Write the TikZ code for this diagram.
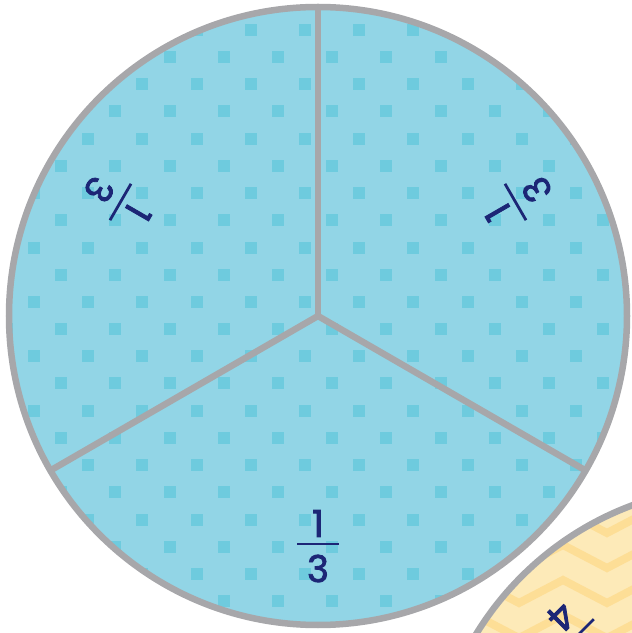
\documentclass[tikz,border=0pt]{standalone}
\usepackage{fontspec}
\setmainfont{Poppins}
\newfontfamily\digitfont{Poppins}[FakeBold=2.2]
\usetikzlibrary{calc}
\definecolor{pieblue}{RGB}{146,213,230}
\definecolor{dotblue}{RGB}{110,203,222}
\definecolor{rimgray}{RGB}{167,167,170}
\definecolor{navy}{RGB}{28,38,118}
\definecolor{pieyellow}{RGB}{253,234,184}
\definecolor{zigyellow}{RGB}{253,222,150}
\tikzset{
  rim/.style={draw=rimgray,line width=6.5pt},
  divider/.style={draw=rimgray,line width=6.5pt},
  digit/.style={text=navy,inner sep=0pt,font=\fontsize{37}{42}\digitfont},
  fracbar/.style={draw=navy,line width=2.8pt},
  dot/.style={fill=dotblue},
  zig/.style={draw=zigyellow,line width=8pt,line join=miter},
}
\newcommand{\fraclabel}[5]{% name, x, y, rotation, denominator
  \begin{scope}[shift={(#2,#3)},rotate=#4]
    \node[digit,rotate=#4] (#1num) at (0,20.5) {1};
    \coordinate (#1l) at (-21,0);
    \coordinate (#1r) at (21,0);
    \draw[fracbar] (#1l) -- (#1r);
    \node[digit,rotate=#4] (#1den) at (0,-24.5) {#5};
  \end{scope}}
\begin{document}
\begin{tikzpicture}[x=1pt,y=1pt]
\useasboundingbox (0,0) rectangle (632,633);
\clip (0,0) rectangle (632,633);
% blue pie
\coordinate (bc) at (318,317);
\fill[pieblue] (bc) circle (309);
\begin{scope}
  \clip (bc) circle (309);
  \foreach \i in {-6,...,6}{
    \foreach \j in {0,...,11}{
      \fill[dot] ({305+54.2*\i-6},{603-54.4*\j-6}) rectangle ++(12,12);
      \fill[dot] ({278+54.2*\i-6},{576-54.4*\j-6}) rectangle ++(12,12);
    }}
\end{scope}
\coordinate (bt) at ($(bc)+(90:309)$);
\coordinate (bl) at ($(bc)+(210:309)$);
\coordinate (br) at ($(bc)+(330:309)$);
\draw[divider] (bc) -- (bt);
\draw[divider,line join=round] (bl) -- (bc) -- (br);
\draw[rim] (bc) circle (309);
\fraclabel{fb}{318}{89}{0}{3}
\fraclabel{fl}{120.5}{431}{240}{3}
\fraclabel{fr}{515.5}{431}{120}{3}
% yellow pie
\coordinate (yc) at (740,-162);
\fill[pieyellow] (yc) circle (309);
\begin{scope}
  \clip (yc) circle (309);
  \foreach \j in {-3,...,4}{
    \draw[zig] (431,{65-35*\j}) -- (475,{88-35*\j}) -- (519,{65-35*\j}) -- (563,{88-35*\j}) -- (607,{65-35*\j}) -- (651,{88-35*\j}) -- (695,{65-35*\j});
  }
\end{scope}
\draw[rim] (yc) circle (309);
\fraclabel{fy}{579}{-1}{225}{4}
\end{tikzpicture}
\end{document}
